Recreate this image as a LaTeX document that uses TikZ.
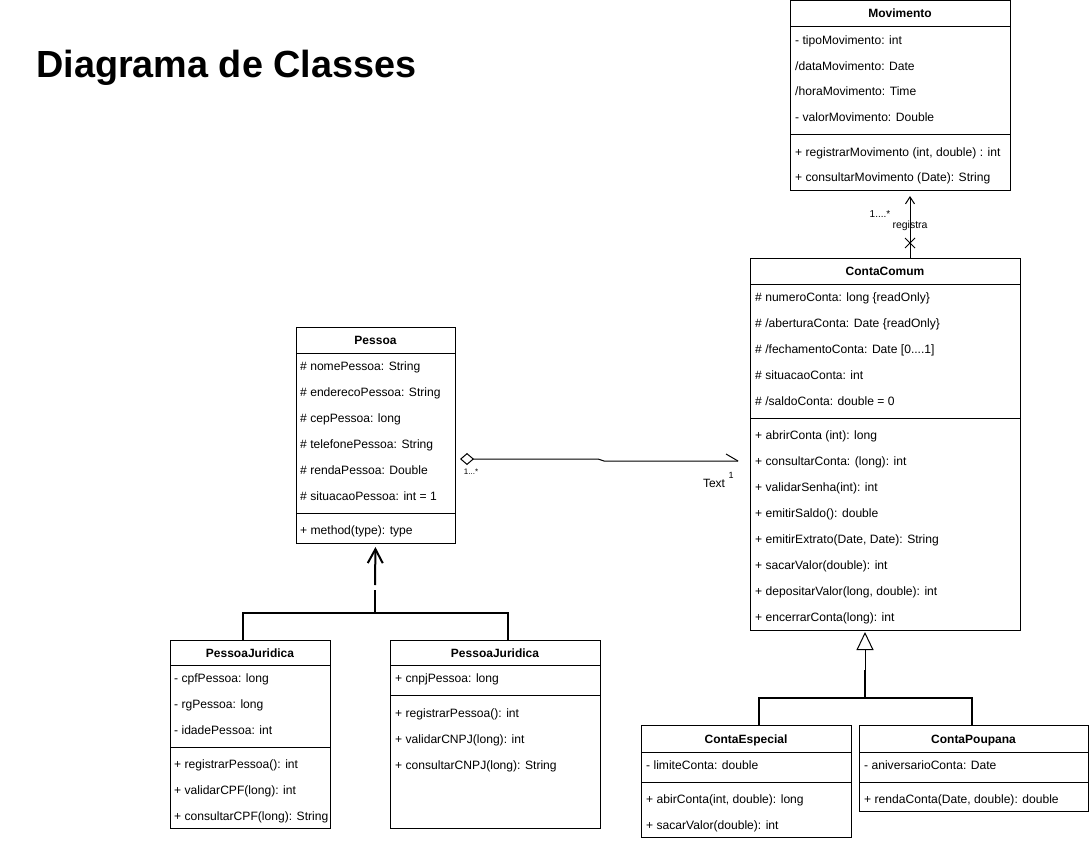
\documentclass[tikz,border=0pt]{standalone}
\usepackage{fontspec}
\setmainfont{Liberation Sans}
\usetikzlibrary{arrows.meta,calc}
\begin{document}
\begin{tikzpicture}[x=1pt,y=-1pt,
  cbox/.style={draw, line width=1pt, anchor=north west, inner sep=0, outer sep=0},
  row/.style={anchor=west, inner sep=0, yshift=-1.5pt, font=\fontsize{12.1}{14}\selectfont, text height=8.5pt, text depth=2.5pt},
  hdr/.style={inner sep=0, yshift=-1pt, font=\fontsize{12}{14}\selectfont\bfseries, text height=8.5pt, text depth=2.5pt},
  sepline/.style={line width=1pt},
  thin/.style={line width=1pt},
  thick2/.style={line width=2pt},
  small/.style={inner sep=0, font=\fontsize{8}{9}\selectfont},
]
\useasboundingbox (0,0) rectangle (1090,841);

% title
\node[anchor=base west, inner sep=0, font=\fontsize{37.8}{40}\selectfont\bfseries] (title) at (36,77) {Diagrama de Classes};

% ---------- Movimento
\node[cbox, minimum width=220pt, minimum height=190pt] (mov) at (790,0) {};
\node[hdr] (movh) at (900,13) {Movimento};
\draw[sepline] (790,26) -- (1010,26);
\node[row] (mova1) at (795,40) {- tipoMovimento: int};
\node[row] (mova2) at (795,66) {/dataMovimento: Date};
\node[row] (mova3) at (795,91) {/horaMovimento: Time};
\node[row] (mova4) at (795,117) {- valorMovimento: Double};
\draw[sepline] (790,134) -- (1010,134);
\node[row] (movm1) at (795,152) {+ registrarMovimento (int, double) : int};
\node[row] (movm2) at (795,177) {+ consultarMovimento (Date): String};

% ---------- ContaComum
\node[cbox, minimum width=270pt, minimum height=372pt] (cc) at (750,258) {};
\node[hdr] (cch) at (885,271) {ContaComum};
\draw[sepline] (750,284) -- (1020,284);
\node[row] (cca1) at (755,297) {\# numeroConta: long \{readOnly\}};
\node[row] (cca2) at (755,323) {\# /aberturaConta: Date \{readOnly\}};
\node[row] (cca3) at (755,349) {\# /fechamentoConta: Date [0....1]};
\node[row] (cca4) at (755,375) {\# situacaoConta: int};
\node[row] (cca5) at (755,401) {\# /saldoConta: double = 0};
\draw[sepline] (750,418) -- (1020,418);
\node[row] (ccm1) at (755,435) {+ abrirConta (int): long};
\node[row] (ccm2) at (755,461) {+ consultarConta: (long): int};
\node[row] (ccm3) at (755,487) {+ validarSenha(int): int};
\node[row] (ccm4) at (755,513) {+ emitirSaldo(): double};
\node[row] (ccm5) at (755,539) {+ emitirExtrato(Date, Date): String};
\node[row] (ccm6) at (755,565) {+ sacarValor(double): int};
\node[row] (ccm7) at (755,591) {+ depositarValor(long, double): int};
\node[row] (ccm8) at (755,617) {+ encerrarConta(long): int};

% ---------- Pessoa
\node[cbox, minimum width=159pt, minimum height=216pt] (pes) at (296,327) {};
\node[hdr] (pesh) at (375.5,340) {Pessoa};
\draw[sepline] (296,353) -- (455,353);
\node[row] (pesa1) at (300,366) {\# nomePessoa: String};
\node[row] (pesa2) at (300,392) {\# enderecoPessoa: String};
\node[row] (pesa3) at (300,418) {\# cepPessoa: long};
\node[row] (pesa4) at (300,444) {\# telefonePessoa: String};
\node[row] (pesa5) at (300,470) {\# rendaPessoa: Double};
\node[row] (pesa6) at (300,496) {\# situacaoPessoa: int = 1};
\draw[sepline] (296,513) -- (455,513);
\node[row] (pesm1) at (300,530) {+ method(type): type};

% ---------- PessoaJuridica (left)
\node[cbox, minimum width=160pt, minimum height=188pt] (pjl) at (170,640) {};
\node[hdr] (pjlh) at (250,653) {PessoaJuridica};
\draw[sepline] (170,665) -- (330,665);
\node[row] (pjla1) at (174,678) {- cpfPessoa: long};
\node[row] (pjla2) at (174,704) {- rgPessoa: long};
\node[row] (pjla3) at (174,730) {- idadePessoa: int};
\draw[sepline] (170,747) -- (330,747);
\node[row] (pjlm1) at (174,764) {+ registrarPessoa(): int};
\node[row] (pjlm2) at (174,790) {+ validarCPF(long): int};
\node[row] (pjlm3) at (174,816) {+ consultarCPF(long): String};

% ---------- PessoaJuridica (right)
\node[cbox, minimum width=210pt, minimum height=188pt] (pjr) at (390,640) {};
\node[hdr] (pjrh) at (495,653) {PessoaJuridica};
\draw[sepline] (390,665) -- (600,665);
\node[row] (pjra1) at (395,678) {+ cnpjPessoa: long};
\draw[sepline] (390,695) -- (600,695);
\node[row] (pjrm1) at (395,713) {+ registrarPessoa(): int};
\node[row] (pjrm2) at (395,739) {+ validarCNPJ(long): int};
\node[row] (pjrm3) at (395,765) {+ consultarCNPJ(long): String};

% ---------- ContaEspecial
\node[cbox, minimum width=210pt, minimum height=112pt] (ce) at (641,725) {};
\node[hdr] (ceh) at (746,739) {ContaEspecial};
\draw[sepline] (641,752) -- (851,752);
\node[row] (cea1) at (646,765) {- limiteConta: double};
\draw[sepline] (641,782) -- (851,782);
\node[row] (cem1) at (646,799) {+ abirConta(int, double): long};
\node[row] (cem2) at (646,825) {+ sacarValor(double): int};

% ---------- ContaPoupana
\node[cbox, minimum width=229pt, minimum height=86pt] (cp) at (859,725) {};
\node[hdr] (cph) at (973.5,739) {ContaPoupana};
\draw[sepline] (859,752) -- (1088,752);
\node[row] (cpa1) at (864,765) {- aniversarioConta: Date};
\draw[sepline] (859,782) -- (1088,782);
\node[row] (cpm1) at (864,799) {+ rendaConta(Date, double): double};

% ---------- association registra
\coordinate (regx) at (910,0);
\draw[thin, -{Straight Barb[length=7pt,width=9pt]}, shorten >=6pt] (cc.north -| regx) -- (mov.south -| regx);
\coordinate (xm) at (910,243);
\draw[thin] ($(xm)+(-5,-5)$) -- ($(xm)+(5,5)$);
\draw[thin] ($(xm)+(-5,5)$) -- ($(xm)+(5,-5)$);
\node[inner sep=0, font=\fontsize{10}{11}\selectfont] (regm) at (880,214) {1....*};
\node[inner sep=0, font=\fontsize{10.5}{11}\selectfont] (regl) at (910,226) {registra};

% ---------- aggregation
\coordinate (aggS) at (460,459);
\coordinate (aggE) at (738,461);
\draw[thin, {Diamond[open,length=14pt,width=12pt]}-] (aggS) -- (598,459) -- (604,461) -- (aggE);
\draw[thin] (aggE) -- ++(-12,-7);
\node[small] (aggm1) at (471,472) {1...*};
\node[inner sep=0, font=\fontsize{12}{13}\selectfont] (aggt) at (714,483) {Text};
\node[inner sep=0, font=\fontsize{9}{10}\selectfont] (aggm2) at (731,475) {1};

% ---------- inheritance Pessoa
\coordinate (pjlx) at (243,0);
\coordinate (pjrx) at (508,0);
\coordinate (pjy) at (0,613);
\draw[thick2] (pjl.north -| pjlx) -- (pjlx |- pjy) -- (pjrx |- pjy) -- (pjr.north -| pjrx);
\draw[thick2] (375,613) -- (375,590);
\coordinate (pgap) at (375,585);
\draw[thick2, -{Straight Barb[length=14pt,width=15pt]}, shorten >=4pt] (pgap) -- (pes.south);

% ---------- inheritance ContaComum
\coordinate (ccx) at (865,0);
\coordinate (ccy) at (0,698);
\coordinate (cex) at (759,0);
\coordinate (cpx) at (972,0);
\draw[thin, -{Triangle[open,length=18pt,width=17pt]}, shorten >=2pt] (865,670) -- (cc.south -| ccx);
\draw[thick2] (ce.north -| cex) -- (cex |- ccy) -- (cpx |- ccy) -- (cp.north -| cpx);
\draw[thick2] (ccx |- ccy) -- (865,670);
\end{tikzpicture}
\end{document}
